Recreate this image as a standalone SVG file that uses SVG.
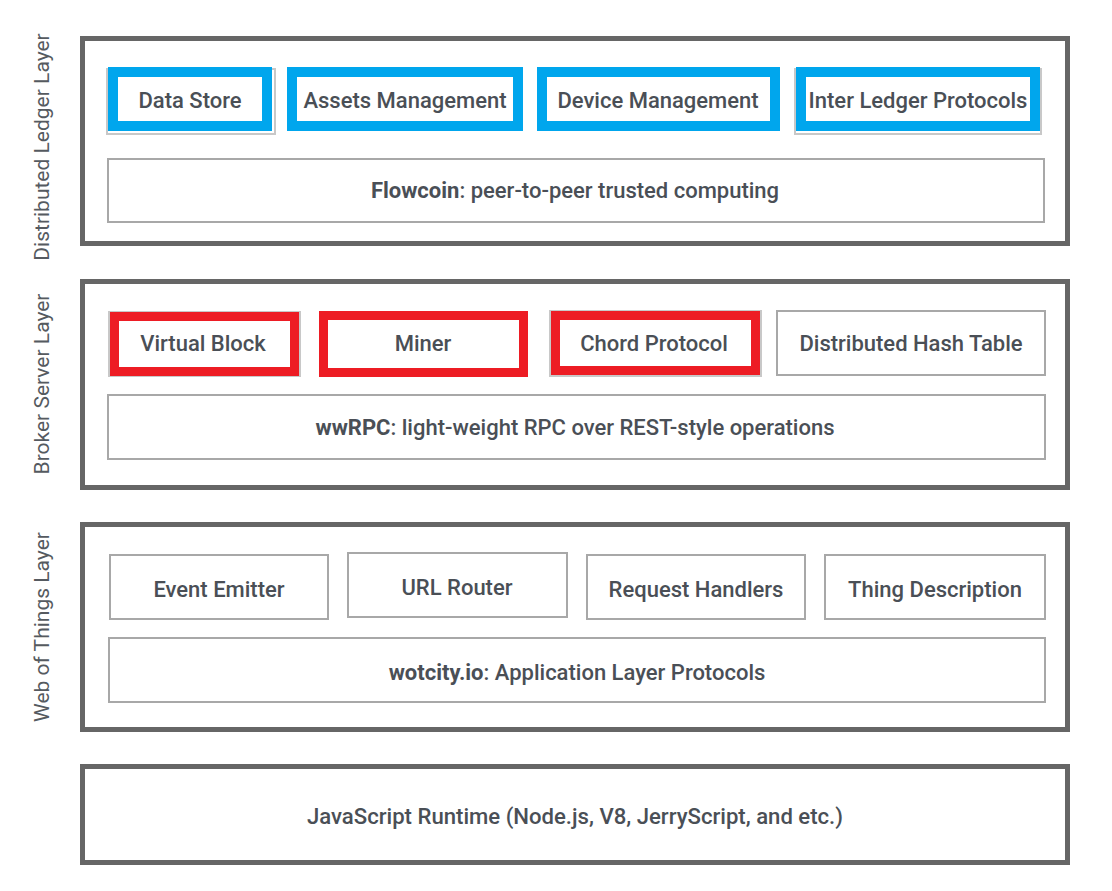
<svg xmlns="http://www.w3.org/2000/svg" width="1112" height="891" viewBox="0 0 1112 891">
<style>
.layer{fill:#fff;stroke:#666;stroke-width:5}
.box{fill:#fff;stroke:#a8a8a8;stroke-width:2}
.blue{fill:#fff;stroke:#00a6ed;stroke-width:10}
.red{fill:#fff;stroke:#ed1c24;stroke-width:9}
.shadow{fill:none;stroke:#c8c8c8;stroke-width:2}
.t{font-family:Roboto,"Liberation Sans",sans-serif;font-size:22px;font-weight:500;fill:#4a4f56;text-anchor:middle;dominant-baseline:central}
.lbl{font-family:Roboto,"Liberation Sans",sans-serif;font-size:21px;font-weight:400;fill:#555a60;text-anchor:middle;dominant-baseline:central}
.js{font-family:Roboto,"Liberation Sans",sans-serif;font-size:22px;font-weight:500;fill:#4a4f56;text-anchor:middle;dominant-baseline:central}
</style>
<rect width="1112" height="891" fill="#fff"/>
<g id="label-dl"><text class="lbl" transform="translate(42,147) rotate(-90)">Distributed Ledger Layer</text></g>
<g id="label-bs"><text class="lbl" transform="translate(42,384) rotate(-90)">Broker Server Layer</text></g>
<g id="label-wot"><text class="lbl" transform="translate(42,627) rotate(-90)">Web of Things Layer</text></g>

<g id="layer-dl"><rect class="layer" x="82.5" y="38.5" width="985" height="205"/></g>
<g id="data-store"><rect class="shadow" x="107" y="69" width="168" height="65"/><rect class="blue" x="113" y="72" width="154" height="54"/><text class="t" x="190" y="100">Data Store</text></g>
<g id="assets-mgmt"><rect class="blue" x="292" y="72" width="226" height="54"/><text class="t" x="405" y="100">Assets Management</text></g>
<g id="device-mgmt"><rect class="blue" x="542" y="72" width="233" height="54"/><text class="t" x="658" y="100">Device Management</text></g>
<g id="inter-ledger"><rect class="shadow" x="795" y="69" width="246" height="65"/><rect class="blue" x="801" y="72" width="234" height="54"/><text class="t" x="918" y="100">Inter Ledger Protocols</text></g>
<g id="flowcoin"><rect class="box" x="108" y="159" width="936" height="63"/><text class="t" x="575" y="190"><tspan font-weight="700">Flowcoin</tspan>: peer-to-peer trusted computing</text></g>

<g id="layer-bs"><rect class="layer" x="82.5" y="281.5" width="985" height="206"/></g>
<g id="virtual-block"><rect class="shadow" x="109" y="312" width="191" height="64"/><rect class="red" x="114.5" y="316.5" width="180" height="55"/><text class="t" x="203" y="343">Virtual Block</text></g>
<g id="miner"><rect class="red" x="323.5" y="315.5" width="200" height="57"/><text class="t" x="423" y="343">Miner</text></g>
<g id="chord"><rect class="shadow" x="550" y="311" width="211" height="65"/><rect class="red" x="555.5" y="315.5" width="200" height="55"/><text class="t" x="654" y="343">Chord Protocol</text></g>
<g id="dht"><rect class="box" x="777" y="311" width="268" height="64"/><text class="t" x="911" y="343">Distributed Hash Table</text></g>
<g id="wwrpc"><rect class="box" x="108" y="395" width="937" height="64"/><text class="t" x="575" y="427"><tspan font-weight="700">wwRPC</tspan>: light-weight RPC over REST-style operations</text></g>

<g id="layer-wot"><rect class="layer" x="82.5" y="524.5" width="985" height="205"/></g>
<g id="event-emitter"><rect class="box" x="110" y="555" width="218" height="64"/><text class="t" x="219" y="589">Event Emitter</text></g>
<g id="url-router"><rect class="box" x="348" y="553" width="219" height="64"/><text class="t" x="457" y="587">URL Router</text></g>
<g id="request-handlers"><rect class="box" x="587" y="555" width="218" height="64"/><text class="t" x="696" y="589">Request Handlers</text></g>
<g id="thing-desc"><rect class="box" x="825" y="555" width="220" height="64"/><text class="t" x="935" y="589">Thing Description</text></g>
<g id="wotcity"><rect class="box" x="109" y="638" width="936" height="64"/><text class="t" x="577" y="672"><tspan font-weight="700">wotcity.io</tspan>: Application Layer Protocols</text></g>

<g id="js-runtime"><rect class="layer" x="82.5" y="766.5" width="985" height="96"/><text class="js" x="575" y="816" textLength="536" lengthAdjust="spacingAndGlyphs">JavaScript Runtime (Node.js, V8, JerryScript, and etc.)</text></g>
<g id="connectors"></g>
</svg>
